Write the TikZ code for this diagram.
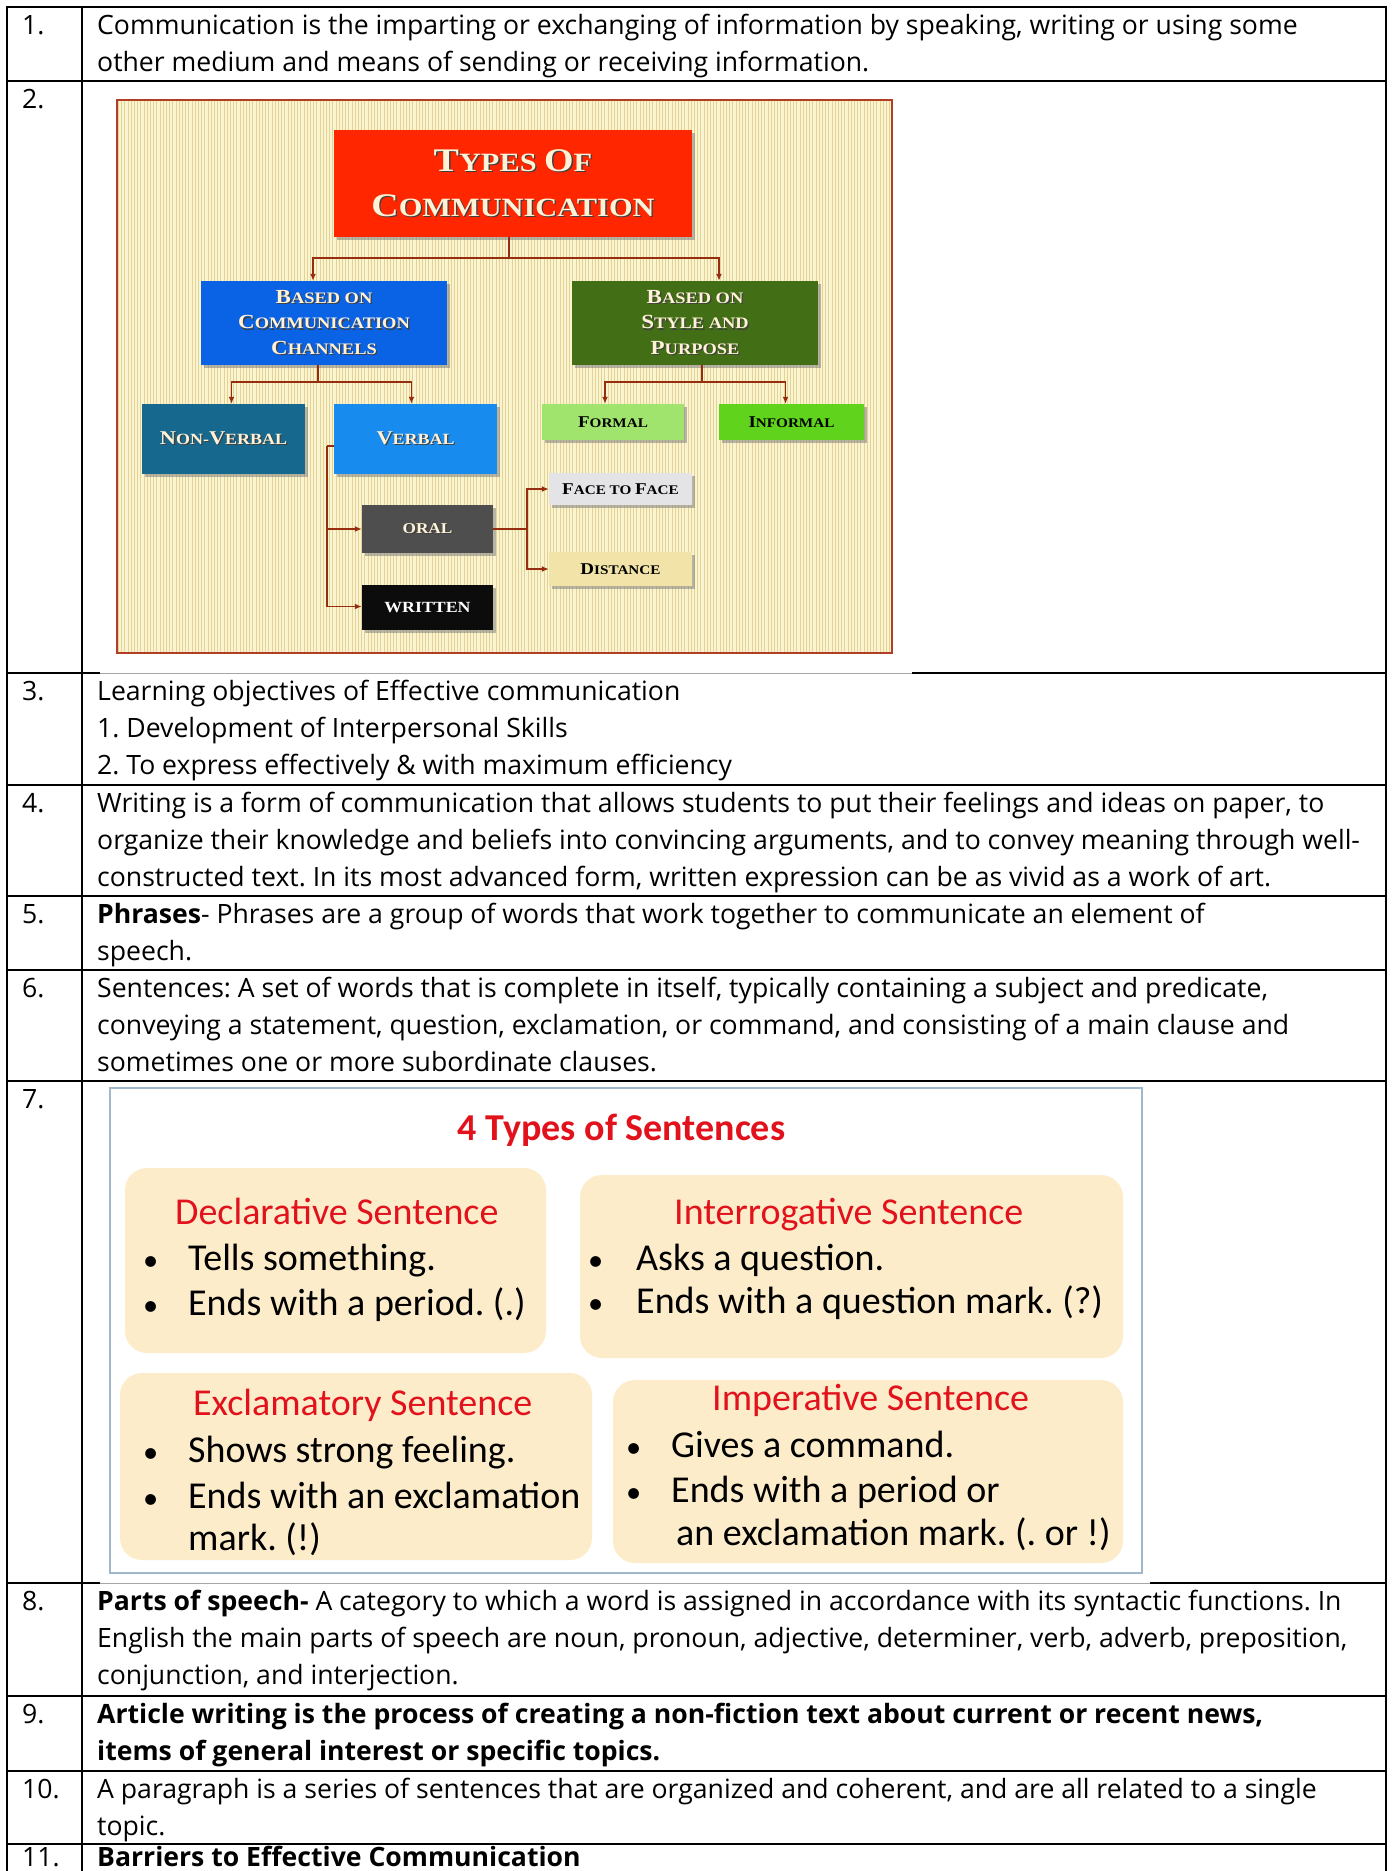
\documentclass[tikz,border=0pt]{standalone}
\usepackage{fontspec}
\usepackage{graphicx}
\setmainfont{Open Sans}
\newfontfamily\carl{Carlito}
\newfontfamily\lser[FakeStretch=1.15]{Liberation Serif}
\usetikzlibrary{arrows.meta,shadows}
\definecolor{titler}{RGB}{255,38,0}
\definecolor{blueb}{RGB}{10,98,228}
\definecolor{greenb}{RGB}{66,110,22}
\definecolor{nvb}{RGB}{22,104,142}
\definecolor{vbb}{RGB}{24,140,238}
\definecolor{formb}{RGB}{160,228,110}
\definecolor{informb}{RGB}{96,212,28}
\definecolor{oralb}{RGB}{78,78,78}
\definecolor{writb}{RGB}{12,12,12}
\definecolor{faceb}{RGB}{228,228,230}
\definecolor{distb}{RGB}{242,228,168}
\definecolor{cream}{RGB}{255,242,214}
\definecolor{connc}{RGB}{150,45,15}
\definecolor{bgy}{RGB}{250,244,208}
\definecolor{stripec}{RGB}{226,210,150}
\definecolor{frametwo}{RGB}{178,62,40}
\definecolor{peach}{RGB}{253,236,202}
\definecolor{redt}{RGB}{226,18,28}
\definecolor{frameseven}{RGB}{160,184,204}
\newcommand\sck[2]{#1\scalebox{0.8}{#2}}
\newcommand\shd[1]{\leavevmode\rlap{\kern1.3pt\raisebox{-1.3pt}{\color{black!75}#1}}#1}
\newcommand\bul{\scalebox{0.8}{•}}
\frenchspacing
\begin{document}
\begin{tikzpicture}[x=1pt,y=-1pt,
  txt/.style={anchor=base west,inner sep=0pt,font=\fontsize{26.6}{37}\selectfont},
  hl/.style={line width=2.2pt},
  vl/.style={line width=1.3pt},
  imgline/.style={line width=0.8pt,draw=black!35},
  cbox/.style={inner sep=0pt,align=center,text=cream,drop shadow={shadow xshift=3pt,shadow yshift=-3pt,opacity=.55}},
  dbox/.style={cbox,text=black},
  conn/.style={draw=connc,line width=1.8pt},
  arr/.style={conn,-{Latex[length=7pt,width=6pt]}},
  sbox/.style={fill=peach,rounded corners=22pt,inner sep=0pt},
  ctx/.style={anchor=base west,inner sep=0pt,font=\carl\fontsize{38}{44}\selectfont},
  chd/.style={ctx,text=redt},
]
\useasboundingbox (0,0) rectangle (1395,1871);
\clip (0,0) rectangle (1395,1871);
\fill[white] (0,0) rectangle (1395,1871);

% ---------- image of row 2 ----------
\node[fill=bgy,inner sep=0pt,minimum width=775pt,minimum height=553pt] (bg2) at (504.5,376.5) {};
\foreach \i in {0,...,241} \draw[stripec,line width=0.9pt] ({118.5+\i*3.2},101) -- ++(0,551);
\node[draw=frametwo,line width=2pt,inner sep=0pt,minimum width=775pt,minimum height=553pt] (fr2) at (504.5,376.5) {};

\node[cbox,fill=titler,minimum width=358pt,minimum height=107pt,font=\lser\bfseries\fontsize{33}{45}\selectfont] (title) at (513,183.5)
  {\shd{\sck{T}{YPES }\sck{O}{F}}\\\shd{\sck{C}{OMMUNICATION}}};
\node[cbox,fill=blueb,minimum width=246pt,minimum height=84pt,font=\lser\bfseries\fontsize{20}{25.5}\selectfont] (blue) at (324,323)
  {\shd{\sck{B}{ASED ON}}\\\shd{\sck{C}{OMMUNICATION}}\\\shd{\sck{C}{HANNELS}}};
\node[cbox,fill=greenb,minimum width=246pt,minimum height=84pt,font=\lser\bfseries\fontsize{20}{25.5}\selectfont] (green) at (695,323)
  {\shd{\sck{B}{ASED ON}}\\\shd{\sck{S}{TYLE AND}}\\\shd{\sck{P}{URPOSE}}};
\node[cbox,fill=nvb,minimum width=163pt,minimum height=70pt,font=\lser\bfseries\fontsize{19.5}{24}\selectfont] (nonverbal) at (223.5,439)
  {\shd{\sck{N}{ON-}\sck{V}{ERBAL}}};
\node[cbox,fill=vbb,minimum width=163pt,minimum height=70pt,font=\lser\bfseries\fontsize{19.5}{24}\selectfont] (verbal) at (415.5,439)
  {\shd{\sck{V}{ERBAL}}};
\node[dbox,fill=formb,minimum width=142pt,minimum height=36pt,font=\lser\bfseries\fontsize{16.5}{20}\selectfont] (formal) at (613,422)
  {\sck{F}{ORMAL}};
\node[dbox,fill=informb,minimum width=145pt,minimum height=36pt,font=\lser\bfseries\fontsize{16.5}{20}\selectfont] (informal) at (791.5,422)
  {\sck{I}{NFORMAL}};
\node[cbox,fill=oralb,minimum width=131pt,minimum height=48pt,font=\lser\bfseries\fontsize{15}{18}\selectfont] (oral) at (427.5,529)
  {\shd{ORAL}};
\node[cbox,fill=writb,minimum width=131pt,minimum height=45pt,font=\lser\bfseries\fontsize{15.5}{18}\selectfont,text=white] (written) at (427.5,607.5)
  {WRITTEN};
\node[dbox,fill=faceb,minimum width=143pt,minimum height=32pt,font=\lser\bfseries\fontsize{16.5}{20}\selectfont] (face) at (620.5,489)
  {\sck{F}{ACE TO }\sck{F}{ACE}};
\node[dbox,fill=distb,minimum width=143pt,minimum height=34pt,font=\lser\bfseries\fontsize{16.5}{20}\selectfont] (distance) at (620.5,569)
  {\sck{D}{ISTANCE}};

\coordinate (j1) at (509,258);
\draw[conn] (title.south -| j1) -- (j1);
\draw[arr] (j1) -| ([xshift=-11pt]blue.north);
\draw[arr] (j1) -| ([xshift=24pt]green.north);
\coordinate (j2) at (318,382);
\draw[conn] (blue.south -| j2) -- (j2);
\draw[arr] (j2) -| ([xshift=8pt]nonverbal.north);
\draw[arr] (j2) -| ([xshift=-4pt]verbal.north);
\coordinate (j3) at (702,382);
\draw[conn] (green.south -| j3) -- (j3);
\draw[arr] (j3) -| ([xshift=-8pt]formal.north);
\draw[arr] (j3) -| ([xshift=-6pt]informal.north);
\coordinate (v1) at (327,446);
\draw[conn] (verbal.west |- v1) -- (v1);
\draw[arr] (v1) |- (oral.west);
\draw[arr] (v1) |- ([yshift=1pt]written.west);
\coordinate (o1) at (527,529);
\draw[conn] (oral.east) -- (o1);
\draw[arr] (o1) |- (face.west);
\draw[arr] (o1) |- (distance.west);

% ---------- image of row 7 ----------
\node[draw=frameseven,line width=1.5pt,fill=white,inner sep=0pt,minimum width=1032pt,minimum height=485pt] (fr7) at (626,1330.5) {};
\node[sbox,minimum width=421pt,minimum height=185pt] (decl) at (335.5,1260.5) {};
\node[sbox,minimum width=543pt,minimum height=183pt] (inter) at (851.5,1266.5) {};
\node[sbox,minimum width=472pt,minimum height=187pt] (excl) at (356,1466.5) {};
\node[sbox,minimum width=510pt,minimum height=183pt] (imper) at (868,1471.5) {};
\node[anchor=base,inner sep=0pt,font=\carl\bfseries\fontsize{38}{44}\selectfont,text=redt] (t7) at (621.5,1140) {4 Types of Sentences};
\node[chd] (h1) at (175,1224) {Declarative Sentence};
\node[ctx] (b1a) at (143,1270) {\bul};
\node[ctx] (i1a) at (188,1270) {Tells something.};
\node[ctx] (b1b) at (143,1315) {\bul};
\node[ctx] (i1b) at (188,1315) {Ends with a period. (.)};
\node[chd] (h2) at (674,1224) {Interrogative Sentence};
\node[ctx] (b2a) at (588,1270) {\bul};
\node[ctx] (i2a) at (636,1270) {Asks a question.};
\node[ctx] (b2b) at (588,1313) {\bul};
\node[ctx] (i2b) at (636,1313) {Ends with a question mark. (?)};
\node[chd] (h3) at (193,1415) {Exclamatory Sentence};
\node[ctx] (b3a) at (143,1462) {\bul};
\node[ctx] (i3a) at (188,1462) {Shows strong feeling.};
\node[ctx] (b3b) at (143,1508) {\bul};
\node[ctx] (i3b) at (188,1508) {Ends with an exclamation};
\node[ctx] (i3c) at (188,1550) {mark. (!)};
\node[chd] (h4) at (712,1410) {Imperative Sentence};
\node[ctx] (b4a) at (626,1457) {\bul};
\node[ctx] (i4a) at (671,1457) {Gives a command.};
\node[ctx] (b4b) at (626,1502) {\bul};
\node[ctx] (i4b) at (671,1502) {Ends with a period or};
\node[ctx] (i4c) at (676,1545) {an exclamation mark. (. or !)};

% ---------- table rules ----------
\draw[hl] (6,7) -- (1387,7);
\draw[hl] (6,81) -- (1387,81);
\draw[hl] (6,673) -- (100,673); \draw[hl] (912,673) -- (1387,673);
\draw[imgline] (100,673) -- (912,673);
\draw[hl] (6,785) -- (1387,785);
\draw[hl] (6,896) -- (1387,896);
\draw[hl] (6,970) -- (1387,970);
\draw[hl] (6,1081) -- (1387,1081);
\draw[hl] (6,1583) -- (100,1583); \draw[hl] (1150,1583) -- (1387,1583);
\draw[imgline] (100,1583) -- (1150,1583);
\draw[hl] (6,1696) -- (1387,1696);
\draw[hl] (6,1771) -- (1387,1771);
\draw[hl] (6,1844) -- (1387,1844);
\draw[vl,line width=1.8pt] (7,6) -- (7,1871);
\draw[vl] (82,7) -- (82,1871);
\draw[vl,line width=1.8pt] (1386,6) -- (1386,1871);

% ---------- table text ----------
\node[txt] (n1) at (22,34) {1.};
\node[txt] (r1a) at (97,34) {Communication is the imparting or exchanging of information by speaking, writing or using some};
\node[txt] (r1b) at (97,71) {other medium and means of sending or receiving information.};
\node[txt] (n2) at (22,108) {2.};
\node[txt] (n3) at (22,700) {3.};
\node[txt] (r3a) at (97,700) {Learning objectives of Effective communication};
\node[txt] (r3b) at (97,737) {1. Development of Interpersonal Skills};
\node[txt] (r3c) at (97,774) {2. To express effectively \& with maximum efficiency};
\node[txt] (n4) at (22,812) {4.};
\node[txt] (r4a) at (97,812) {Writing is a form of communication that allows students to put their feelings and ideas on paper, to};
\node[txt] (r4b) at (97,849) {organize their knowledge and beliefs into convincing arguments, and to convey meaning through well-};
\node[txt] (r4c) at (97,886) {constructed text. In its most advanced form, written expression can be as vivid as a work of art.};
\node[txt] (n5) at (22,923) {5.};
\node[txt] (r5a) at (97,923) {\textbf{Phrases}- Phrases are a group of words that work together to communicate an element of};
\node[txt] (r5b) at (97,960) {speech.};
\node[txt] (n6) at (22,997) {6.};
\node[txt] (r6a) at (97,997) {Sentences: A set of words that is complete in itself, typically containing a subject and predicate,};
\node[txt] (r6b) at (97,1034) {conveying a statement, question, exclamation, or command, and consisting of a main clause and};
\node[txt] (r6c) at (97,1071) {sometimes one or more subordinate clauses.};
\node[txt] (n7) at (22,1108) {7.};
\node[txt] (n8) at (22,1610) {8.};
\node[txt] (r8a) at (97,1610) {\textbf{Parts of speech-} A category to which a word is assigned in accordance with its syntactic functions. In};
\node[txt] (r8b) at (97,1647) {English the main parts of speech are noun, pronoun, adjective, determiner, verb, adverb, preposition,};
\node[txt] (r8c) at (97,1684) {conjunction, and interjection.};
\node[txt] (n9) at (22,1723) {9.};
\node[txt] (r9a) at (97,1723) {\textbf{Article writing is the process of creating a non-fiction text about current or recent news,}};
\node[txt] (r9b) at (97,1760) {\textbf{items of general interest or specific topics.}};
\node[txt] (n10) at (22,1798) {10.};
\node[txt] (r10a) at (97,1798) {A paragraph is a series of sentences that are organized and coherent, and are all related to a single};
\node[txt] (r10b) at (97,1835) {topic.};
\node[txt] (n11) at (22,1866) {11.};
\node[txt] (r11a) at (97,1866) {\textbf{Barriers to Effective Communication}};
\end{tikzpicture}
\end{document}
